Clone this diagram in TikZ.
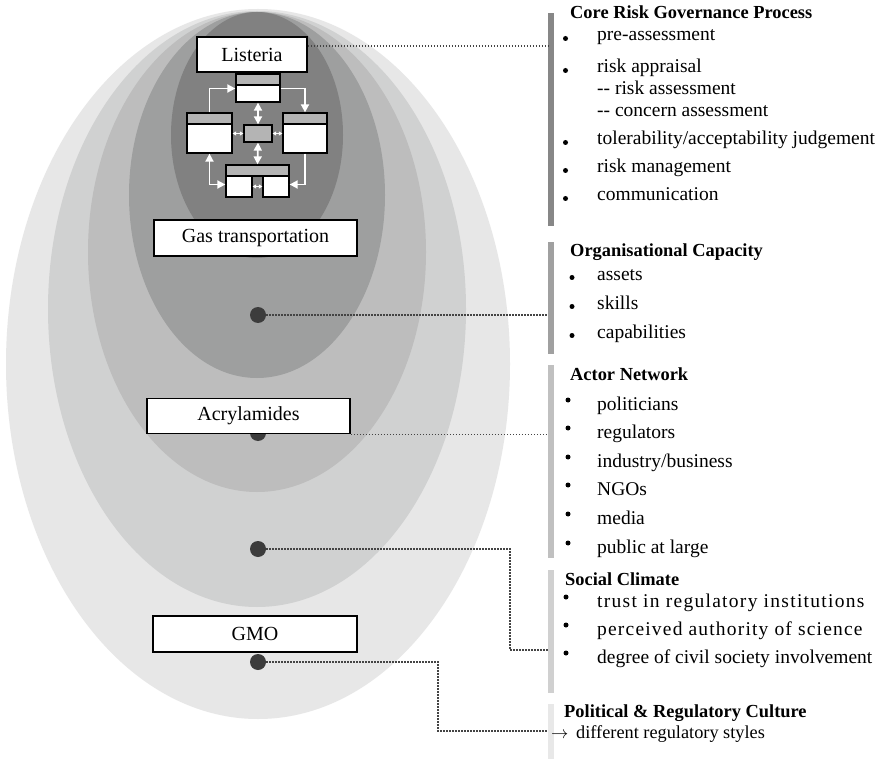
\documentclass[tikz,border=0pt]{standalone}
\usepackage{fontspec}
\setmainfont{Liberation Serif}
\usetikzlibrary{arrows.meta}

\definecolor{ringA}{HTML}{E7E7E7}
\definecolor{ringB}{HTML}{D0D1D1}
\definecolor{ringC}{HTML}{BDBDBD}
\definecolor{ringD}{HTML}{9E9F9F}
\definecolor{ringE}{HTML}{818181}
\definecolor{dotgray}{HTML}{3C3C3C}
\definecolor{hdrgray}{HTML}{B4B4B4}
\definecolor{barA}{HTML}{878787}
\definecolor{barB}{HTML}{A0A0A0}
\definecolor{barC}{HTML}{C0C0C0}
\definecolor{barD}{HTML}{D0D0D0}
\definecolor{barE}{HTML}{E8E8E8}
\definecolor{leadgray}{HTML}{444444}

\tikzset{
  casebox/.style={draw=black, line width=1.6pt, fill=white, inner sep=0pt,
    font=\fontsize{20}{21}\selectfont},
  dotmark/.style={circle, fill=dotgray, inner sep=0pt, minimum size=16pt},
  sidebar/.style={rectangle, inner sep=0pt, minimum width=6pt},
  leader/.style={draw=leadgray, line width=1.3pt, dash pattern=on 1.3pt off 1.7pt},
  ttl/.style={anchor=base west, inner sep=0pt, font=\bfseries\fontsize{18.4}{20}\selectfont},
  itm/.style={anchor=base west, inner sep=0pt, font=\fontsize{19.5}{20}\selectfont},
  itmpol/.style={anchor=base west, inner sep=0pt, font=\fontsize{18.3}{20}\selectfont},
  blt/.style={circle, fill=black, inner sep=0pt, minimum size=5pt},
  hdr/.style={draw=black, line width=1.3pt, fill=hdrgray, inner sep=0pt},
  pane/.style={draw=black, line width=1.3pt, fill=white, inner sep=0pt},
  warrow/.style={draw=white, line width=1.8pt, line join=miter,
    -{Triangle[length=8pt,width=8pt]}},
  wboth/.style={draw=white, line width=1.8pt, line join=miter,
    {Triangle[length=8pt,width=8pt]}-{Triangle[length=8pt,width=8pt]}},
  wsmall/.style={draw=white, line width=0.8pt,
    {Triangle[length=3.5pt,width=4pt]}-{Triangle[length=3.5pt,width=4pt]}},
}

\begin{document}
\begin{tikzpicture}[x=1pt,y=-1pt]
\useasboundingbox (0,0) rectangle (886,759);
\fill[white] (0,0) rectangle (886,759);

% nested risk contexts
\fill[ringA] (258,364) ellipse [x radius=252pt, y radius=355pt];
\fill[ringB] (257,309) ellipse [x radius=209pt, y radius=298pt];
\fill[ringC] (257,252) ellipse [x radius=169pt, y radius=240pt];
\fill[ringD] (257,195) ellipse [x radius=128pt, y radius=183pt];
\fill[ringE] (257,135) ellipse [x radius=86pt, y radius=123pt];

% markers
\node[dotmark] (dorg) at (258,315) {};
\node[dotmark] (dact) at (258,433) {};
\node[dotmark] (dsoc) at (258,549) {};
\node[dotmark] (dgmo) at (258,662) {};

% case boxes
\node[casebox, minimum width=110pt, minimum height=35pt] (listeria) at (252,54.5) {Listeria};
\node[casebox, minimum width=203pt, minimum height=36pt] (gas) at (255.5,238) {Gas transportation};
\node[casebox, minimum width=203pt, minimum height=35pt] (acryl) at (248.5,416) {Acrylamides};
\node[casebox, minimum width=204pt, minimum height=36pt] (gmo) at (255,634) {GMO};

% process cycle
\node[hdr, minimum width=44pt, minimum height=11pt] (tophdr) at (258,79.5) {};
\node[pane, minimum width=44pt, minimum height=17pt] (topbody) at (258,93.5) {};
\node[hdr, minimum width=45pt, minimum height=11pt] (lefthdr) at (209.5,118.5) {};
\node[pane, minimum width=45pt, minimum height=29pt] (leftbody) at (209.5,138.5) {};
\node[hdr, minimum width=44pt, minimum height=11pt] (righthdr) at (305,118.5) {};
\node[pane, minimum width=44pt, minimum height=29pt] (rightbody) at (305,138.5) {};
\node[hdr, minimum width=28pt, minimum height=17pt] (centre) at (258,133.5) {};
\node[hdr, minimum width=63pt, minimum height=11pt] (bothdr) at (257.5,170.5) {};
\node[pane, minimum width=26pt, minimum height=21pt] (blbody) at (239,186.5) {};
\node[pane, minimum width=26pt, minimum height=21pt] (brbody) at (276,186.5) {};

\draw[warrow] (lefthdr.north) |- ([yshift=5pt]topbody.west);
\draw[warrow] ([yshift=5pt]topbody.east) -| (righthdr.north);
\draw[warrow] (rightbody.south) |- ([yshift=2pt]brbody.east);
\draw[wboth] (leftbody.south) |- ([yshift=2pt]blbody.west);
\draw[wboth] (topbody.south) -- (centre.north);
\draw[wboth] (centre.south) -- (bothdr.north);
\draw[wsmall] (centre.west -| leftbody.east) -- (centre.west);
\draw[wsmall] (centre.east) -- (centre.east -| rightbody.west);
\draw[wsmall] (blbody.east) -- (brbody.west);

% side bars
\node[sidebar, fill=barA, minimum height=213pt] (barcore) at (551,119.5) {};
\node[sidebar, fill=barB, minimum height=111pt] (barorg) at (551,298) {};
\node[sidebar, fill=barC, minimum height=193pt] (baract) at (551,461.5) {};
\node[sidebar, fill=barD, minimum height=123pt] (barsoc) at (551,631.5) {};
\node[sidebar, fill=barE, minimum height=55pt] (barpol) at (551,731.5) {};

% leaders
\coordinate (corein) at (548,46);
\coordinate (socturn) at (510,650);
\coordinate (gmoturn) at (438,731);
\draw[leader] (listeria.east |- corein) -- (corein);
\draw[leader] (dorg.east) -- (barorg.west |- dorg);
\draw[leader] (acryl.south east) -- (baract.west |- acryl.south east);
\draw[leader] (dsoc.east) -| (socturn) -- (barsoc.west |- socturn);
\draw[leader] (dgmo.east) -| (gmoturn) -- (barpol.west |- gmoturn);

% core risk governance process
\node[ttl] (tcore) at (570,19) {Core Risk Governance Process};
\node[blt] (bc1) at (565.5,38.5) {};
\node[itm] (c1) at (597,41) {pre-assessment};
\node[blt] (bc2) at (565.5,70.5) {};
\node[itm] (c2) at (597,73) {risk appraisal};
\node[itm] (c2a) at (597,95) {-{}- risk assessment};
\node[itm] (c2b) at (597,117) {-{}- concern assessment};
\node[blt] (bc3) at (565.5,142.5) {};
\node[itm] (c3) at (597,145) {tolerability/acceptability judgement};
\node[blt] (bc4) at (565.5,170.5) {};
\node[itm] (c4) at (597,173) {risk management};
\node[blt] (bc5) at (565.5,198.5) {};
\node[itm] (c5) at (597,201) {communication};

% organisational capacity
\node[ttl] (torg) at (570,257) {Organisational Capacity};
\node[blt] (bo1) at (572,277.5) {};
\node[itm] (o1) at (597,280) {assets};
\node[blt] (bo2) at (572,306.5) {};
\node[itm] (o2) at (597,309) {skills};
\node[blt] (bo3) at (572,335.5) {};
\node[itm] (o3) at (597,338) {capabilities};

% actor network
\node[ttl] (tact) at (570,380) {Actor Network};
\node[blt] (ba1) at (568,400) {};
\node[itm] (a1) at (597,410) {politicians};
\node[blt] (ba2) at (568,428) {};
\node[itm] (a2) at (597,438) {regulators};
\node[blt] (ba3) at (568,457) {};
\node[itm] (a3) at (597,467) {industry/business};
\node[blt] (ba4) at (568,485) {};
\node[itm] (a4) at (597,495) {NGOs};
\node[blt] (ba5) at (568,514) {};
\node[itm] (a5) at (597,524) {media};
\node[blt] (ba6) at (568,543) {};
\node[itm] (a6) at (597,553) {public at large};

% social climate
\node[ttl] (tsoc) at (565,585) {Social Climate};
\node[blt] (bs1) at (566,597) {};
\node[itm] (s1) at (597,607) {\addfontfeature{LetterSpace=6.6}trust in regulatory institutions};
\node[blt] (bs2) at (566,625) {};
\node[itm] (s2) at (597,635) {\addfontfeature{LetterSpace=6.1}perceived authority of science};
\node[blt] (bs3) at (566,653) {};
\node[itm] (s3) at (597,663) {degree of civil society involvement};

% political and regulatory culture
\node[ttl] (tpol) at (564,717) {Political \& Regulatory Culture};
\node[itmpol] (parrow) at (551,738) {$\rightarrow$};
\node[itmpol] (p1) at (576,738) {different regulatory styles};
\end{tikzpicture}
\end{document}
